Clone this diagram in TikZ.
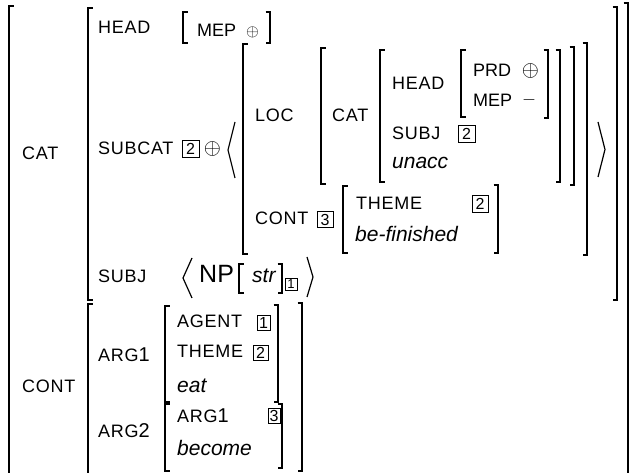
\documentclass[tikz,border=0pt]{standalone}
\usepackage{fontspec}
\usepackage{graphicx}
\setmainfont{Liberation Sans}
\newfontfamily\labfont[LetterSpace=4]{Liberation Sans}

% square brackets of the matrices: x, top y, bottom y
\newcommand\avmopen[3]{\draw[brk] ({#1+4.5},#2) -- (#1,#2) -- (#1,#3) -- ({#1+4.5},#3);}
\newcommand\avmclose[3]{\draw[brk] ({#1-4.5},#2) -- (#1,#2) -- (#1,#3) -- ({#1-4.5},#3);}
% angle brackets of lists: outer x, tip x, top y, bottom y
\newcommand\avmangle[4]{\draw[ang] (#1,#3) -- (#2,{(#3+#4)/2}) -- (#1,#4);}
% scaled operator symbols
\newcommand\avmplus[1]{\scalebox{#1}{$\oplus$}}
\newcommand\avmminus[1]{\scalebox{#1}{$-$}}

\tikzset{
  brk/.style={line width=1.3pt},
  ang/.style={line width=1.2pt, line join=miter},
  lab/.style={font={\fontsize{18}{21}\labfont}, inner sep=0pt, anchor=base west},
  val/.style={font={\fontsize{18}{21}\selectfont}, inner sep=0pt, anchor=base west},
  ital/.style={font={\fontsize{21}{24}\selectfont\itshape}, inner sep=0pt, anchor=base west},
  big/.style={font={\fontsize{25}{28}\selectfont}, inner sep=0pt, anchor=base west},
  sym/.style={inner sep=0pt},
  tag/.style={draw, line width=0.8pt, inner sep=0pt, font={\fontsize{16}{16}\selectfont}},
}

\begin{document}
\begin{tikzpicture}[x=1pt, y=-1pt]
\clip (0,0) rectangle (630,473);

% outermost matrix
\avmopen{9}{6}{480}
\avmclose{628}{3}{480}
\node[lab] (catA) at (22,160) {CAT};
\node[lab] (contA) at (22,392) {CONT};

% value of CAT
\avmopen{88}{8}{300}
\avmclose{617}{7}{300}
\node[lab] (headB) at (98,34) {HEAD};
\avmopen{183}{12}{43}
\node[val] (mepB) at (197,37) {MEP};
\node[sym] (plusB) at (252.5,32.5) {\avmplus{1.65}};
\avmclose{270}{12}{43}

\node[lab] (subcatB) at (98,155) {SUBCAT};
\node[tag, minimum width=17pt, minimum height=17pt] (tagSubcat) at (190.5,148.5) {2};
\node[sym] (plusSubcat) at (212.5,149) {\avmplus{2.2}};
\avmangle{235}{228}{122}{178}

% the synsem object on the SUBCAT list
\avmopen{243}{44}{254}
\avmclose{587}{43}{255}
\node[lab] (locC) at (255,122) {LOC};
\avmopen{321}{48}{184}
\avmclose{574}{47}{185}
\node[lab] (catC) at (332,122) {CAT};
\avmopen{380}{50}{182}
\avmclose{560}{50}{182}
\node[lab] (headC) at (392,90) {HEAD};
\avmopen{461}{50}{117}
\avmclose{548}{50}{118}
\node[val] (prdC) at (473,77) {PRD};
\node[sym] (plusC) at (530.5,71) {\avmplus{2.2}};
\node[val] (mepC) at (473,107) {MEP};
\node[sym] (minusC) at (529,100) {\avmminus{1.8}};
\node[lab] (subjC) at (392,140) {SUBJ};
\node[tag, minimum width=17pt, minimum height=17pt] (tagSubjC) at (466.5,133.5) {2};
\node[ital] (unacc) at (392,169) {unacc};

\node[lab] (contC) at (255,225) {CONT};
\node[tag, minimum width=16pt, minimum height=16pt] (tagContC) at (325,219.5) {3};
\avmopen{343}{186}{253}
\avmclose{498}{185}{253}
\node[lab] (themeC) at (356,210) {THEME};
\node[tag, minimum width=16pt, minimum height=17pt] (tagThemeC) at (480,203.5) {2};
\node[ital] (befin) at (355,242) {be-finished};
\avmangle{598}{605}{122}{177}

\node[lab] (subjB) at (98,283) {SUBJ};
\avmangle{192}{183}{258}{298}
\node[big] (np) at (199,283) {NP};
\avmopen{239}{264}{293}
\node[ital] (str) at (252,283) {str};
\avmclose{282}{264}{293}
\node[tag, minimum width=12pt, minimum height=12pt, font={\fontsize{13}{13}\selectfont}] (tagNP) at (291,284) {1};
\avmangle{307}{313}{257}{297}

% value of CONT
\avmopen{88}{304}{480}
\avmclose{302}{303}{471}
\node[lab] (arg1B) at (98,362) {ARG\fontsize{20}{22}\selectfont1};
\avmopen{165}{306}{402}
\avmclose{278}{305}{402}
\node[lab] (agentD) at (177,328) {AGENT};
\node[tag, minimum width=13pt, minimum height=15pt] (tagAgent) at (263.5,322.5) {1};
\node[lab] (themeD) at (177,358) {THEME};
\node[tag, minimum width=15pt, minimum height=15pt] (tagThemeD) at (260.5,352.5) {2};
\node[ital] (eat) at (177,392) {eat};

\node[lab] (arg2B) at (98,438) {ARG\fontsize{20}{22}\selectfont2};
\avmopen{165}{404}{471}
\avmclose{282}{404}{468}
\node[lab] (arg1D) at (177,422) {ARG\fontsize{20}{22}\selectfont1};
\node[tag, minimum width=12pt, minimum height=15pt] (tagArg1D) at (274,415.5) {3};
\node[ital] (become) at (177,455) {become};
\end{tikzpicture}
\end{document}
